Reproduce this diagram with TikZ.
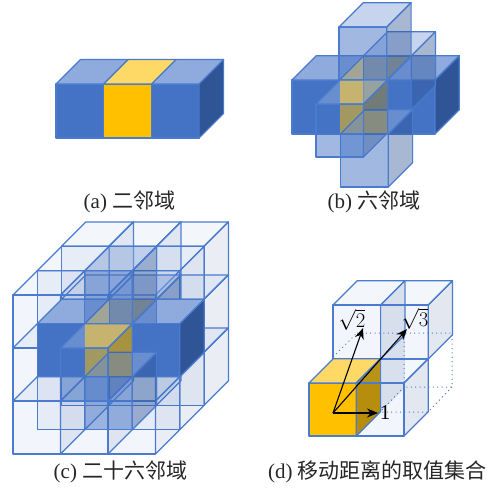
\documentclass[tikz,border=0pt]{standalone}
\usepackage{fontspec}
\setmainfont{Liberation Serif}
\newfontfamily\cjkf{Noto Sans CJK SC}
\usetikzlibrary{arrows.meta}
\definecolor{bluef}{HTML}{4472C4}
\definecolor{bluet}{HTML}{8FAADC}
\definecolor{bluer}{HTML}{2F5597}
\definecolor{edgeb}{HTML}{4A7BCE}
\definecolor{orf}{HTML}{FFC000}
\definecolor{ort}{HTML}{FFD966}
\definecolor{orr}{HTML}{BF9000}
\tikzset{
  edgeline/.style={draw=edgeb,line width=1.2pt,line join=round},
  sf/.style={edgeline,fill=bluef},
  stp/.style={edgeline,fill=bluet},
  sr/.style={edgeline,fill=bluer},
  of/.style={edgeline,fill=orf},
  ot/.style={edgeline,fill=ort},
  orside/.style={edgeline,fill=orr},
  noface/.style={},
  mf/.style={edgeline,fill=bluef,fill opacity=.5},
  mt/.style={edgeline,fill=bluet,fill opacity=.5},
  mr/.style={edgeline,fill=bluer,fill opacity=.42},
  lf/.style={edgeline,fill=bluef,fill opacity=.07},
  lt/.style={edgeline,fill=bluet,fill opacity=.11},
  lr/.style={edgeline,fill=bluer,fill opacity=.1},
  dr/.style={edgeline,fill=bluer,fill opacity=.14},
  dotline/.style={draw=edgeb,line width=1pt,dash pattern=on 1pt off 3.4pt},
  vec/.style={draw=black,line width=1.1pt,-{Stealth[length=11pt,width=9pt]}},
  captext/.style={font=\fontsize{21}{21}\selectfont,inner sep=0pt,text=black!85},
  mathlab/.style={font=\fontsize{21}{21}\selectfont,inner sep=0pt}
}
% x y w h depth frontstyle topstyle rightstyle
\newcommand{\boxcell}[8]{%
  \path[#6] (#1,#2) rectangle ++(#3,#4);
  \path[#7] (#1,#2) -- ++(#5,-#5) -- ++(#3,0) -- ++(-#5,#5) -- cycle;
  \path[#8] ({#1+#3},#2) -- ++(#5,-#5) -- ++(0,#4) -- ++(-#5,#5) -- cycle;
}
\begin{document}
\begin{tikzpicture}[x=1pt,y=-1pt]
\useasboundingbox (0,0) rectangle (497,490);
% ---------- (a)
\boxcell{56}{84}{47.7}{54}{24.5}{sf}{stp}{sr}
\boxcell{151.4}{84}{47.7}{54}{24.5}{sf}{stp}{sr}
\boxcell{103.7}{84}{47.7}{54}{24.5}{of}{ot}{noface}
\node[captext] (capa) at (129.5,202) {(a) {\cjkf 二邻域}};
% ---------- (b)
\boxcell{292}{80}{47.6}{54}{24.3}{sf}{stp}{sr}
\boxcell{387.4}{80}{47.6}{54}{24.3}{sf}{stp}{sr}
\boxcell{339.6}{80}{47.8}{54}{24.3}{of}{ot}{noface}
\boxcell{363.3}{56}{47.8}{54}{24.3}{mf}{mt}{mr}
\boxcell{339}{27}{47.8}{53}{24.3}{mf}{mt}{mr}
\boxcell{340.5}{134}{47.8}{53}{24.3}{mf}{mt}{mr}
\boxcell{316}{104}{47.4}{53}{24.3}{mf}{mt}{mr}
\node[captext] (capb) at (374,202) {(b) {\cjkf 六邻域}};
% ---------- (c)
\foreach \d in {2,1,0}{
 \foreach \r in {0,1,2}{
  \foreach \c in {0,1,2}{
   \pgfmathtruncatemacro{\n}{abs(\d-1)+abs(\r-1)+abs(\c-1)}
   \ifnum\n>1
    \pgfmathsetmacro{\px}{13+47.5*\c+24.3*\d}
    \pgfmathsetmacro{\py}{295+53*\r-24.4*\d}
    \boxcell{\px}{\py}{47.5}{53}{24.3}{lf}{lt}{lr}
   \fi
  }}}
\boxcell{109.1}{299.2}{47.5}{53}{24.3}{mf}{mt}{mr}
\boxcell{37.3}{323.6}{47.5}{53}{24.3}{sf}{stp}{sr}
\boxcell{132.3}{323.6}{47.5}{53}{24.3}{sf}{stp}{sr}
\boxcell{84.8}{323.6}{47.5}{53}{24.3}{of}{ot}{noface}
\path[mf] (109.1,299.2) rectangle (156.6,323.6);
\boxcell{84.8}{270.6}{47.5}{53}{24.3}{mf}{mt}{mr}
\boxcell{84.8}{376.6}{47.5}{53}{24.3}{mf}{mt}{mr}
\boxcell{60.5}{348}{47.5}{53}{24.3}{mf}{mt}{mr}
\node[captext] (capc) at (120.5,472) {(c) {\cjkf 二十六邻域}};
% ---------- (d)
\coordinate (d1) at (357,333);
\coordinate (d2) at (452,333);
\coordinate (d3) at (452,387);
\coordinate (d4) at (404,333);
\coordinate (d5) at (404,387);
\coordinate (d6) at (380,412);
\coordinate (d7) at (428,412);
\coordinate (d8) at (333,357);
\coordinate (d9) at (356,412);
\boxcell{333}{305}{47.6}{54}{24.3}{lf}{lt}{dr}
\boxcell{380.6}{305}{47.6}{54}{24.3}{lf}{lt}{dr}
\path[dr,draw=none] (380.6,359) -- (404.9,335) -- (404.9,388) -- (380.6,412) -- cycle;
\boxcell{309}{383}{47.3}{53}{24.3}{of}{ot}{orside}
\boxcell{356.3}{383}{47.6}{53}{24.3}{lf}{lt}{dr}
\path[dotline] (d1) -- (d2) -- (d3) -- (d5) (d4) -- (d5) (d8) -- (d1) (d5) -- (d6) (d9) -- (d7) (d3) -- (d7);
\coordinate (orig) at (333,413);
\coordinate (tip1) at (378,413);
\coordinate (tip2) at (363,328);
\coordinate (tip3) at (407,329);
\draw[vec] (orig) -- (tip1);
\draw[vec] (orig) -- (tip2);
\draw[vec] (orig) -- (tip3);
\node[mathlab] (lab1) at (385,413) {1};
\node[mathlab] (lab2) at (352,320) {$\sqrt{2}$};
\node[mathlab] (lab3) at (415,319) {$\sqrt{3}$};
\node[captext] (capd) at (377.5,472) {(d) {\cjkf 移动距离的取值集合}};
\end{tikzpicture}
\end{document}
